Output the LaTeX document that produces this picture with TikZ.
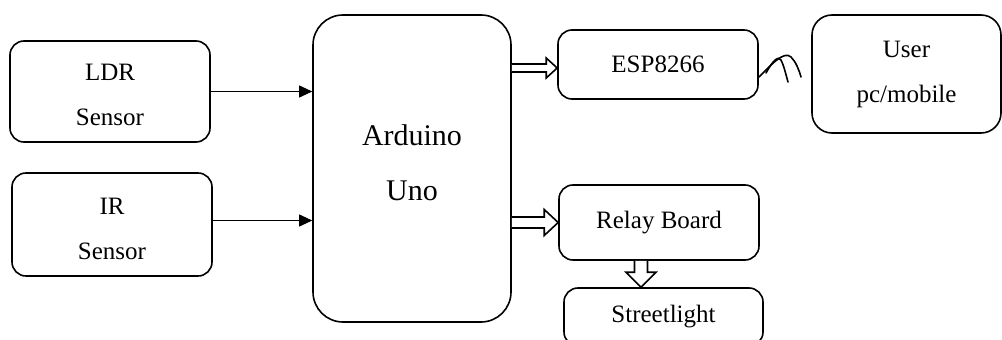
\documentclass[tikz,border=0pt]{standalone}
\usepackage{fontspec}
\setmainfont{Liberation Serif}
\usetikzlibrary{arrows.meta,calc}
\tikzset{
  box/.style={draw, line width=1.6pt, rounded corners=14pt, inner sep=0pt, align=center,
    font=\fontsize{25}{45}\selectfont},
  wire/.style={line width=0.9pt, -{Triangle[length=13pt,width=12pt]}},
  fat/.style={line width=1.6pt, fill=white, line join=miter},
  wifi/.style={line width=1.6pt, line cap=round},
}
% hollow block arrow: start, tip, half shaft, half head, head length
\newcommand{\fatarrow}[5]{%
  \coordinate (fatbase) at ($(#2)!#5!(#1)$);
  \filldraw[fat] ($(#1)!#3!90:(#2)$) -- ($(fatbase)!#3!-90:(#1)$) -- ($(fatbase)!#4!-90:(#1)$) -- (#2)
    -- ($(fatbase)!#4!90:(#1)$) -- ($(fatbase)!#3!90:(#1)$) -- ($(#1)!#3!-90:(#2)$);
}
\begin{document}
\begin{tikzpicture}[x=1pt,y=-1pt]
  \clip (0,0) rectangle (1002,340);
  \draw
    (110,91.5) node[box, minimum width=200pt, minimum height=101pt, text height=68pt] (ldr){LDR\\Sensor}
    (112,224.5) node[box, minimum width=200pt, minimum height=103pt, text height=70pt] (ir){IR\\Sensor}
    (412,168.5) node[box, rounded corners=30pt, minimum width=198pt, minimum height=307pt,
      font=\fontsize{30}{55}\selectfont, text depth=12pt] (uno){Arduino\\Uno}
    (658,64.5) node[box, minimum width=200pt, minimum height=69pt] (esp){ESP8266}
    (659,222.5) node[box, minimum width=200pt, minimum height=75pt] (relay){Relay Board}
    (663.5,317) node[box, minimum width=199pt, minimum height=58pt] (street){Streetlight}
    (906.5,74) node[box, rounded corners=20pt, minimum width=189pt, minimum height=118pt] (user){User\\pc/mobile};
  \begin{scope}[wire]
    \draw (ldr.east) -- (ldr.east -| uno.west);
    \draw ([yshift=4pt]ir.east) -- ([yshift=4pt]ir.east -| uno.west);
  \end{scope}
  \coordinate (espA) at (uno.east |- 0,68);
  \coordinate (espB) at (esp.west |- 0,68);
  \coordinate (relA) at (uno.east |- relay.west);
  \coordinate (stA) at (relay.south -| 641,0);
  \coordinate (stB) at (street.north -| 641,0);
  \fatarrow{espA}{espB}{4pt}{10pt}{11pt}
  \fatarrow{relA}{relay.west}{5.5pt}{13pt}{14pt}
  \fatarrow{stA}{stB}{6.5pt}{15pt}{15pt}
  % wireless link
  \draw[wifi] (759,77) .. controls (770,66) and (784,50) .. (791,57) .. controls (796,62) and (799,70) .. (801,77);
  \draw[wifi] (766,73) .. controls (772,62) and (778,55) .. (781,60) .. controls (784,66) and (786,75) .. (788,82);
\end{tikzpicture}
\end{document}
